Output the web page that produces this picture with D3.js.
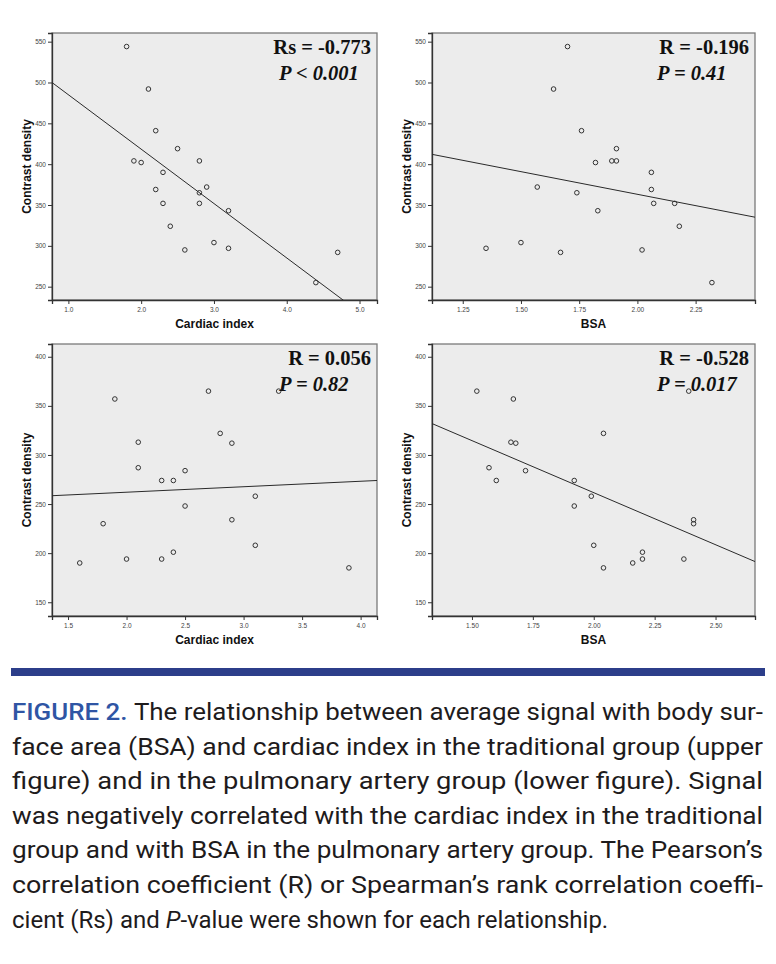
<!DOCTYPE html>
<html>
<head>
<meta charset="utf-8">
<script src="https://cdn.jsdelivr.net/npm/d3@7"></script>
<style>
  body { margin: 0; background: #fff; }
  svg text { font-family: "Liberation Sans", Arial, sans-serif; }
  .tick text { font-family: "Liberation Sans Narrow", "Liberation Sans", Arial, sans-serif; font-size: 6.5px; fill: #444; }
  .axis-title { font-weight: bold; font-size: 12px; fill: #111; }
  .stat { font-family: "Liberation Serif", "Times New Roman", serif; font-weight: bold; font-size: 20.5px; fill: #111; }
  .caption { font-family: "Roboto", "Liberation Sans Narrow", sans-serif; font-size: 24px; fill: #1e1b1c; }
</style>
</head>
<body>
<svg id="fig" width="776" height="964"></svg>
<script>
// traditional group (upper figures)
const signalTrad = [544, 492, 441, 419, 402, 404, 404, 390, 372, 369, 365, 352, 352, 343, 324, 304, 297, 295, 292, 255];
const ciTrad     = [1.8, 2.1, 2.2, 2.5, 2.0, 1.9, 2.8, 2.3, 2.9, 2.2, 2.8, 2.3, 2.8, 3.2, 2.4, 3.0, 3.2, 2.6, 4.7, 4.4];
const bsaTrad    = [1.70, 1.64, 1.76, 1.91, 1.82, 1.89, 1.91, 2.06, 1.57, 2.06, 1.74, 2.07, 2.16, 1.83, 2.18, 1.50, 1.35, 2.02, 1.67, 2.32];

// pulmonary artery group (lower figures)
const signalPa = [365, 365, 357, 322, 313, 312, 287, 284, 274, 274, 258, 248, 234, 230, 208, 201, 194, 194, 190, 185];
const ciPa     = [2.7, 3.3, 1.9, 2.8, 2.1, 2.9, 2.1, 2.5, 2.3, 2.4, 3.1, 2.5, 2.9, 1.8, 3.1, 2.4, 2.0, 2.3, 1.6, 3.9];
const bsaPa    = [1.52, 2.39, 1.67, 2.04, 1.66, 1.68, 1.57, 1.72, 1.60, 1.92, 1.99, 1.92, 2.41, 2.41, 2.00, 2.20, 2.20, 2.37, 2.16, 2.04];

// fit lines [intercept, slope]
const fitTradCi  = [551.6, -66.6];
const fitTradBsa = [474.1, -55.5];
const fitPaCi    = [250.9, 5.58];
const fitPaBsa   = [473.6, -106.0];

// axis ticks
const ticksCi1   = [1, 2, 3, 4, 5];
const ticksBsa1  = [1.25, 1.5, 1.75, 2.0, 2.25];
const ticksCi2   = [1.5, 2.0, 2.5, 3.0, 3.5, 4.0];
const ticksBsa2  = [1.5, 1.75, 2.0, 2.25, 2.5];
const ticksSig1  = [250, 300, 350, 400, 450, 500, 550];
const ticksSig2  = [150, 200, 250, 300, 350, 400];

const statLabels = [
    ["Rs = -0.773", "P < 0.001"],
    ["R = -0.196", "P = 0.41"],
    ["R = 0.056", "P = 0.82"],
    ["R = -0.528", "P = 0.017"]
];

const svg = d3.select("#fig");

function drawPanel(o) {
    const g = svg.append("g");
    const x = d3.scaleLinear().domain(o.xDomain).range([o.left, o.right]);
    const y = d3.scaleLinear().domain(o.yDomain).range([o.bottom, o.top]);

    // plot background
    g.append("rect")
        .attr("x", o.left).attr("y", o.top)
        .attr("width", o.right - o.left).attr("height", o.bottom - o.top)
        .attr("fill", "#ececec")
        .attr("stroke", "#7a7a7a")
        .attr("stroke-width", 1.3);

    const clipId = "clip" + o.id;
    g.append("clipPath").attr("id", clipId)
        .append("rect")
        .attr("x", o.left).attr("y", o.top)
        .attr("width", o.right - o.left).attr("height", o.bottom - o.top);

    // axes
    const xAxis = g.append("g")
        .attr("transform", `translate(0,${o.bottom})`)
        .call(d3.axisBottom(x).tickValues(o.xTicks).tickSize(4).tickPadding(3).tickFormat(d3.format(o.xFmt)));
    const yAxis = g.append("g")
        .attr("transform", `translate(${o.left},0)`)
        .call(d3.axisLeft(y).tickValues(o.yTicks).tickSize(4).tickPadding(2).tickFormat(d3.format("d")));
    [xAxis, yAxis].forEach(a => {
        a.select(".domain").attr("stroke", "#333").attr("stroke-width", 1.3);
        a.selectAll(".tick line").attr("stroke", "#333");
    });

    // regression line
    const [a, b] = o.fit;
    g.append("line")
        .attr("clip-path", `url(#${clipId})`)
        .attr("x1", x(o.xDomain[0])).attr("y1", y(a + b * o.xDomain[0]))
        .attr("x2", x(o.xDomain[1])).attr("y2", y(a + b * o.xDomain[1]))
        .attr("stroke", "#2a2a2a")
        .attr("stroke-width", 1);

    // points
    g.selectAll("circle.pt")
        .data(o.xs.map((v, i) => [v, o.ys[i]]))
        .join("circle")
        .attr("class", "pt")
        .attr("cx", d => x(d[0]))
        .attr("cy", d => y(d[1]))
        .attr("r", 2.3)
        .attr("fill", "none")
        .attr("stroke", "#333")
        .attr("stroke-width", 1);

    // axis titles
    g.append("text")
        .attr("class", "axis-title")
        .attr("text-anchor", "middle")
        .attr("x", (o.left + o.right) / 2)
        .attr("y", o.bottom + 28)
        .text(o.xTitle);
    g.append("text")
        .attr("class", "axis-title")
        .attr("text-anchor", "middle")
        .attr("transform", `translate(${o.left - 21},${(o.top + o.bottom) / 2}) rotate(-90)`)
        .text("Contrast density");

    // statistics
    g.append("text")
        .attr("class", "stat")
        .attr("text-anchor", "end")
        .attr("x", o.right - 6)
        .attr("y", o.top + 21)
        .text(o.stat[0]);
    g.append("text")
        .attr("class", "stat")
        .attr("font-style", "italic")
        .attr("x", o.right - 98)
        .attr("y", o.top + 47)
        .text(o.stat[1]);
}

drawPanel({ id: 1, left: 52, right: 377, top: 33, bottom: 300,
    xDomain: [0.775, 5.24], yDomain: [233.7, 560.6], xTicks: ticksCi1, yTicks: ticksSig1, xFmt: ".1f",
    xs: ciTrad, ys: signalTrad, fit: fitTradCi, xTitle: "Cardiac index", stat: statLabels[0] });
drawPanel({ id: 2, left: 432, right: 755, top: 33, bottom: 300,
    xDomain: [1.118, 2.505], yDomain: [233.7, 560.6], xTicks: ticksBsa1, yTicks: ticksSig1, xFmt: ".2f",
    xs: bsaTrad, ys: signalTrad, fit: fitTradBsa, xTitle: "BSA", stat: statLabels[1] });
drawPanel({ id: 3, left: 52, right: 377, top: 344, bottom: 616,
    xDomain: [1.363, 4.14], yDomain: [136, 413], xTicks: ticksCi2, yTicks: ticksSig2, xFmt: ".1f",
    xs: ciPa, ys: signalPa, fit: fitPaCi, xTitle: "Cardiac index", stat: statLabels[2] });
drawPanel({ id: 4, left: 432, right: 755, top: 344, bottom: 616,
    xDomain: [1.336, 2.662], yDomain: [136, 413], xTicks: ticksBsa2, yTicks: ticksSig2, xFmt: ".2f",
    xs: bsaPa, ys: signalPa, fit: fitPaBsa, xTitle: "BSA", stat: statLabels[3] });

// caption
svg.append("rect").attr("x", 11).attr("y", 668).attr("width", 754).attr("height", 8).attr("fill", "#2c3e8a");

const capLines = [
    ["The relationship between average signal with body sur-"],
    ["face area (BSA) and cardiac index in the traditional group (upper"],
    ["figure) and in the pulmonary artery group (lower figure). Signal"],
    ["was negatively correlated with the cardiac index in the traditional"],
    ["group and with BSA in the pulmonary artery group. The Pearson\u2019s"],
    ["correlation coefficient (R) or Spearman\u2019s rank correlation coeffi-"],
    ["cient (Rs) and ", "P", "-value were shown for each relationship."]
];

capLines.forEach((parts, i) => {
    const t = svg.append("text")
        .attr("class", "caption")
        .attr("x", 12)
        .attr("y", 720 + i * 34.6);
    if (i === 0) {
        t.append("tspan").attr("fill", "#2f55a4").attr("font-weight", 500).text("FIGURE 2. ");
    }
    parts.forEach(p => {
        const s = t.append("tspan").text(p);
        if (p === "P") s.attr("font-style", "italic");
    });
    if (i < capLines.length - 1) {
        t.attr("textLength", 751).attr("lengthAdjust", "spacingAndGlyphs");
    }
});
</script>
</body>
</html>
